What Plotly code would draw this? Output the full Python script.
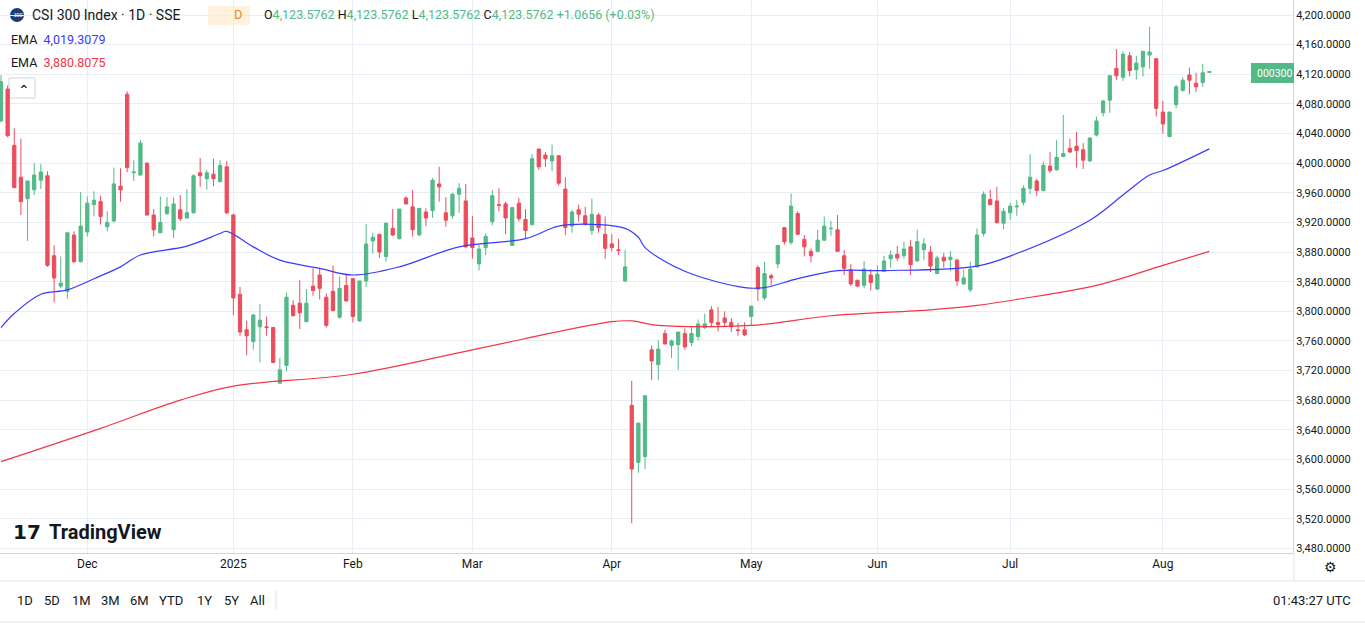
import plotly.graph_objects as go

# daily OHLC, CSI 300, 2024-11-13 .. 2025-08-11 (bar index 0..182)
opens = [4057, 4100, 4024, 3981, 3952, 3964, 3977, 3983, 3875, 3834, 3827, 3903, 3867, 3907, 3944, 3948, 3914, 3922, 3969, 4093,
         3987, 3984, 4000, 3930, 3906, 3932, 3910, 3937, 3926, 3933, 3987, 3979, 3985, 3975, 3995, 3930, 3823, 3775, 3759, 3779,
         3779, 3778, 3703, 3727, 3808, 3811, 3786, 3834, 3849, 3819, 3827, 3792, 3835, 3844, 3787, 3841, 3895, 3904, 3874, 3912,
         3898, 3953, 3941, 3903, 3934, 3936, 3972, 3933, 3929, 3958, 3949, 3899, 3864, 3886, 3921, 3944, 3945, 3889, 3946, 3924,
         3917, 4019, 4011, 4003, 4010, 3965, 3915, 3937, 3929, 3909, 3930, 3904, 3891, 3883, 3841, 3673, 3596, 3604, 3748, 3728,
         3770, 3754, 3755, 3770, 3758, 3766, 3778, 3802, 3785, 3791, 3785, 3775, 3775, 3793, 3859, 3818, 3848, 3864, 3913, 3893,
         3932, 3897, 3881, 3881, 3896, 3911.5, 3910, 3875, 3856, 3842, 3835, 3849, 3830, 3854, 3871, 3877, 3875, 3887, 3868, 3883,
         3880, 3851, 3873, 3870, 3869, 3837, 3829, 3860, 3905, 3951, 3949, 3919, 3933, 3941, 3947, 3966, 3976, 3963, 3996, 3991,
         4009, 4020, 4023, 4018, 4003, 4038, 4068, 4085, 4128, 4116, 4145, 4126, 4130, 4146, 4141, 4069, 4036, 4079, 4098, 4119,
         4108, 4109, 4122.51]
highs = [4119, 4105, 4047, 4033, 3976, 4000, 3999, 3989, 3889, 3874, 3906, 3908, 3961, 3955, 3962, 3956, 3935, 3994, 3993, 4097,
         4004, 4031, 4001, 3938, 3955, 3954, 3954, 3957, 3965, 3985, 4007, 3991, 4006, 4004, 4003, 3932, 3833, 3787, 3796, 3810,
         3793, 3779, 3737, 3825, 3815, 3842, 3830, 3858, 3858, 3824, 3862, 3847, 3850, 3844, 3841, 3918, 3906, 3904, 3919, 3938,
         3938, 3955, 3964, 3939, 3939, 3980, 3995, 3954, 3960, 3973, 3972, 3929, 3890, 3905, 3964, 3966, 3948, 3940, 3953, 3938,
         4012, 4020, 4015, 4025, 4011, 3981, 3937, 3944, 3941, 3952, 3933, 3928, 3904, 3898, 3883, 3706, 3649, 3686, 3754, 3761,
         3775, 3762, 3772, 3777, 3779, 3789, 3797, 3807, 3806, 3800, 3791, 3784, 3785, 3807, 3862, 3867, 3851, 3889, 3913, 3959,
         3935, 3903, 3885, 3910, 3928, 3922, 3930, 3883, 3864, 3842, 3868, 3857, 3862, 3875, 3882, 3888, 3894, 3896, 3910, 3899,
         3888, 3875, 3879, 3881, 3871, 3856, 3867, 3912, 3962, 3964, 3968, 3939, 3946, 3950, 3970, 4012, 3979, 4002, 4015, 4031,
         4065, 4033, 4042, 4027, 4034, 4063, 4085, 4118, 4154, 4151, 4150, 4145, 4151, 4184, 4141, 4084, 4069, 4106, 4116, 4129,
         4122, 4134, 4124]
lows = [4055, 4035, 3966, 3930, 3895, 3957, 3965, 3860, 3812, 3831, 3817, 3865, 3866, 3901, 3928, 3917, 3908, 3920, 3948, 3988,
        3976, 3983, 3929, 3901, 3906, 3930, 3899, 3922, 3925, 3932, 3968, 3964, 3969, 3974, 3931, 3795, 3767, 3741, 3748, 3731,
        3767, 3730, 3702, 3719, 3793, 3776, 3785, 3821, 3816, 3778, 3800, 3790, 3813, 3785, 3786, 3833, 3878, 3872, 3867, 3902,
        3897, 3944, 3901, 3902, 3915, 3926, 3948, 3914, 3925, 3933, 3885, 3871, 3855, 3876, 3916, 3935, 3904, 3888, 3921, 3898,
        3916, 3991, 3995, 3989, 3970, 3903, 3906, 3921, 3916, 3903, 3906, 3871, 3881, 3876, 3840, 3514, 3582, 3587, 3707, 3707,
        3755, 3737, 3721, 3748, 3753, 3761, 3776, 3779, 3773, 3779, 3772, 3767, 3767, 3781, 3814, 3815, 3835, 3858, 3890, 3890,
        3903, 3874, 3866, 3880, 3895, 3902, 3880, 3849, 3834, 3833, 3831, 3828, 3829, 3853, 3859, 3868, 3871, 3849, 3867, 3869,
        3853, 3850, 3859, 3854, 3834, 3836, 3826, 3859, 3901, 3943, 3918, 3911, 3923, 3929, 3943, 3958, 3956, 3962, 3987, 3990,
        4008, 4014, 3994, 3992, 4002, 4036, 4063, 4068, 4112, 4111, 4117, 4113, 4117, 4127, 4063, 4040, 4035, 4074, 4097, 4093,
        4096, 4103, 4122]
closes = [4110, 4037, 3967, 3948, 3976, 3984, 3988, 3862, 3845, 3838, 3906, 3867, 3915, 3946, 3950, 3928, 3920, 3972, 3964, 3994,
          3988, 4027, 3930, 3910, 3920, 3941, 3945, 3925, 3933, 3983, 3983, 3987, 3979, 3997, 3933, 3818, 3772, 3767, 3795, 3788,
          3778, 3731, 3721, 3819, 3794, 3798, 3811, 3828, 3831, 3781, 3801, 3831, 3814, 3793, 3841, 3891, 3900, 3880, 3919, 3903,
          3938, 3945, 3910, 3939, 3926, 3977, 3968, 3923, 3958, 3966, 3887, 3886, 3884, 3901, 3956, 3943, 3926, 3940, 3925, 3909,
          4006, 3995, 4006, 4010, 3973, 3913, 3934, 3931, 3917, 3931, 3913, 3885, 3886, 3882, 3860, 3587, 3649, 3686, 3733, 3749,
          3756, 3760, 3772, 3752, 3770, 3783, 3783, 3785, 3782, 3785, 3779, 3774, 3768, 3807, 3830, 3851, 3845, 3889, 3894, 3942,
          3904, 3887, 3875, 3896, 3915, 3912, 3881, 3858, 3837, 3834, 3857, 3839, 3850, 3868, 3876, 3872, 3884, 3863, 3894, 3891,
          3861, 3872, 3868, 3873, 3841, 3845, 3857, 3903, 3958, 3944, 3920, 3935, 3942, 3942, 3966, 3981, 3963, 3997, 3990, 4008,
          4013, 4015, 4017, 4004, 4034, 4057, 4084, 4118, 4118, 4147, 4125, 4135, 4151, 4150, 4074, 4053, 4069, 4103, 4112, 4112,
          4103, 4122, 4123.58]

ema_fast_idx = [0, 2, 6, 10, 14, 18, 21, 28, 33, 34, 38, 42, 48, 53, 60, 69, 79, 84, 90, 94, 96, 97, 103, 112, 115, 120, 126,
                133, 147, 153, 164, 169, 173, 175, 182]
ema_fast = [3778, 3797, 3823, 3829, 3844, 3860, 3876, 3888, 3905, 3908, 3887, 3869, 3858, 3849, 3860, 3887, 3898, 3915, 3917,
            3912, 3900, 3886, 3854, 3832, 3832, 3844, 3855, 3855, 3861, 3878, 3923, 3957, 3984, 3990, 4019.3]
ema_slow_idx = [0, 15, 27, 35, 53, 71, 92, 95, 99, 113, 125, 140, 147, 153, 165, 175, 182]
ema_slow = [3597, 3642, 3680, 3699, 3715, 3748, 3786, 3787, 3781, 3781, 3794, 3802, 3808, 3816, 3835, 3862, 3880.8]

month_idx = [13, 35, 53, 71, 92, 113, 132, 152, 175]
month_lbl = ["Dec", "2025", "Feb", "Mar", "Apr", "May", "Jun", "Jul", "Aug"]
price_ticks = list(range(3480, 4201, 40))
ranges = ["1D", "5D", "1M", "3M", "6M", "YTD", "1Y", "5Y", "All"]
range_x = [15, 42, 70, 99, 128, 157, 195, 222, 248]

UP, DOWN = "#53b987", "#eb4d5c"
FONT = "Roboto"
PW, PH = 1293, 553  # plot area size in px
x = list(range(len(closes)))

fig = go.Figure()
fig.add_trace(go.Candlestick(
    x=x, open=opens, high=highs, low=lows, close=closes,
    increasing=dict(line=dict(color=UP, width=1), fillcolor=UP),
    decreasing=dict(line=dict(color=DOWN, width=1), fillcolor=DOWN),
    whiskerwidth=0, showlegend=False))
fig.add_trace(go.Scatter(x=ema_fast_idx, y=ema_fast, mode="lines", line=dict(color="#3a3aff", width=1.2, shape="spline"),
                         showlegend=False))
fig.add_trace(go.Scatter(x=ema_slow_idx, y=ema_slow, mode="lines", line=dict(color="#f23645", width=1.2, shape="spline"),
                         showlegend=False))

fig.update_layout(
    width=1365, height=627, margin=dict(l=0, r=72, t=0, b=74),
    paper_bgcolor="white", plot_bgcolor="white",
    font=dict(family=FONT, size=12, color="#131722"),
    xaxis=dict(range=[-0.15, 194.6], tickvals=month_idx, ticktext=month_lbl, showgrid=True, gridcolor="#e8eef3",
               rangeslider=dict(visible=False), showline=True, linecolor="#d1d4dc", ticks="", zeroline=False,
               tickfont=dict(size=12, color="#131722")),
    yaxis=dict(side="right", range=[3473.7, 4220.25], tickvals=price_ticks,
               ticktext=[f"{v:,}.0000" for v in price_ticks], showgrid=True, gridcolor="#e8eef3",
               showline=True, linecolor="#d1d4dc", ticks="", zeroline=False, tickfont=dict(size=11, color="#131722")),
)


def px(x0):
    return x0 / PW


def py(y0):
    return 1 - y0 / PH


G = "#53b987"
ann = [
    dict(x=30, y=15, text="CSI 300 Index · 1D · SSE", font=dict(size=14)),
    dict(x=232, y=15, text="D", font=dict(size=13, color="#e8891d")),
    dict(x=262, y=15, text=(f"O<span style='color:{G}'>4,123.5762</span> H<span style='color:{G}'>4,123.5762</span> "
                            f"L<span style='color:{G}'>4,123.5762</span> C<span style='color:{G}'>4,123.5762</span> "
                            f"<span style='color:{G}'>+1.0656 (+0.03%)</span>"), font=dict(size=12.5)),
    dict(x=9, y=39, text="EMA  <span style='color:#3a3aff'>4,019.3079</span>", font=dict(size=12.5)),
    dict(x=9, y=63, text="EMA  <span style='color:#f23645'>3,880.8075</span>", font=dict(size=12.5)),
    dict(x=16, y=90, text="⌃", font=dict(size=14)),
    dict(x=11, y=532, text="<b>17</b>", font=dict(size=20, family="DejaVu Sans")),
    dict(x=47, y=532, text="<b>TradingView</b>", font=dict(size=20, family=FONT)),
    dict(x=1271, y=600, text="01:43:27 UTC", font=dict(size=13)),
    dict(x=1322, y=567, text="⚙", font=dict(size=14, color="#131722")),
    dict(x=1255, y=73, text="000300", font=dict(size=10.5, color="#ffffff")),
    dict(x=11.5, y=15, text="300", font=dict(size=5, color="white")),
]
ann += [dict(x=rx, y=600, text=r, font=dict(size=13)) for r, rx in zip(ranges, range_x)]
for a in ann:
    fig.add_annotation(xref="paper", yref="paper", x=px(a["x"]), y=py(a["y"]), xanchor="left",
                       yanchor="middle", showarrow=False, text=a["text"], font=dict(family=a["font"].get("family", FONT),
                       size=a["font"]["size"], color=a["font"].get("color", "#131722")))


def box(x0, y0, x1, y1, **kw):
    fig.add_shape(type="rect", xref="paper", yref="paper", x0=px(x0), x1=px(x1), y0=py(y1), y1=py(y0), **kw)


def line(x0, y0, x1, y1):
    fig.add_shape(type="line", xref="paper", yref="paper", x0=px(x0), x1=px(x1), y0=py(y0), y1=py(y1),
                  line=dict(color="#e0e3eb", width=1))


fig.add_shape(type="circle", xref="paper", yref="paper", x0=px(10), x1=px(24), y0=py(22), y1=py(8),
              fillcolor="#1d3d78", line=dict(width=0), layer="below")
box(208, 6, 250, 25, fillcolor="#fff3e0", line=dict(width=0), layer="below")
box(9, 78, 35, 98, fillcolor="white", line=dict(color="#d1d4dc", width=1), layer="below")
box(1251, 63, 1294, 83, fillcolor=G, line=dict(width=0), layer="above", opacity=1)
line(0, 581, 1365, 581)
line(1294, 553, 1294, 581)
line(276, 590, 276, 610)
line(0, 622, 1365, 622)

fig.write_html("out.html", config={"displayModeBar": False}, post_script="document.body.style.margin='0';")
